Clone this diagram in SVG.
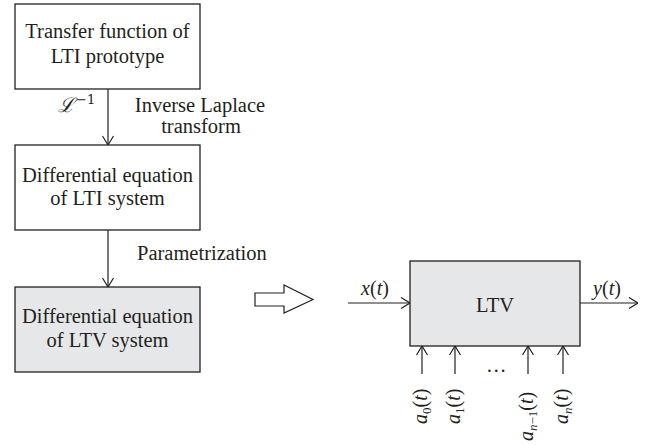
<svg xmlns="http://www.w3.org/2000/svg" width="649" height="445" viewBox="0 0 649 445">
<defs>
<style>
.box{fill:#ffffff;stroke:#231f20;stroke-width:1.3}
.gray{fill:#e6e7e8}
.t{font-family:"Liberation Serif","Times New Roman",serif;font-size:20.5px;fill:#231f20}
.m{font-family:"Liberation Serif","Times New Roman",serif;font-size:20px;font-style:italic;fill:#231f20}
.c{text-anchor:middle}
.ln{stroke:#231f20;stroke-width:1.2;fill:none}
</style>
<marker id="ah" viewBox="0 0 10 12" refX="10" refY="6" markerWidth="10" markerHeight="12" markerUnits="userSpaceOnUse" orient="auto">
<path d="M1,0.5 L10,6 L1,11.5" fill="none" stroke="#231f20" stroke-width="1.2"/>
</marker>
</defs>
<rect width="649" height="445" fill="#ffffff"/>
<g id="n1">
<rect class="box" x="15" y="4" width="185" height="85"/>
<text class="t c" x="107.5" y="38">Transfer function of</text>
<text class="t c" x="107.5" y="63">LTI prototype</text>
</g>
<g id="n2">
<rect class="box" x="15" y="145" width="185" height="85"/>
<text class="t c" x="107.5" y="182">Differential equation</text>
<text class="t c" x="107.5" y="205">of LTI system</text>
</g>
<g id="n3">
<rect class="box gray" x="15" y="287" width="185" height="85"/>
<text class="t c" x="107.5" y="323">Differential equation</text>
<text class="t c" x="107.5" y="347">of LTV system</text>
</g>
<g id="n4">
<rect class="box gray" x="410" y="261" width="170" height="85"/>
<text class="t c" x="495" y="312">LTV</text>
</g>
<g id="bigarrow">
<polygon points="255,293 284,293 284,285 313,299.5 284,313 284,306 255,306" fill="#ffffff" stroke="#231f20" stroke-width="1.2"/>
</g>
<g id="connectors">
<line class="ln" x1="108" y1="89" x2="108" y2="145" marker-end="url(#ah)"/>
<line class="ln" x1="108" y1="230" x2="108" y2="287" marker-end="url(#ah)"/>
<line class="ln" x1="348" y1="303" x2="410" y2="303" marker-end="url(#ah)"/>
<line class="ln" x1="580" y1="303" x2="638" y2="303" marker-end="url(#ah)"/>
<line class="ln" x1="422" y1="374" x2="422" y2="346" marker-end="url(#ah)"/>
<line class="ln" x1="455" y1="374" x2="455" y2="346" marker-end="url(#ah)"/>
<line class="ln" x1="528" y1="374" x2="528" y2="346" marker-end="url(#ah)"/>
<line class="ln" x1="563" y1="374" x2="563" y2="346" marker-end="url(#ah)"/>
</g>
<g id="labels">
<text class="m" x="58" y="112" style="font-family:'DejaVu Serif','Liberation Serif',serif;font-size:20px">ℒ<tspan font-style="normal" font-size="13" dx="1" dy="-8">−1</tspan></text>
<text class="t c" x="200" y="112">Inverse Laplace</text>
<text class="t c" x="201" y="133">transform</text>
<text class="t" x="137" y="260">Parametrization</text>
<text class="m c" x="375" y="295">x<tspan font-style="normal">(</tspan>t<tspan font-style="normal">)</tspan></text>
<text class="m c" x="607" y="295">y<tspan font-style="normal">(</tspan>t<tspan font-style="normal">)</tspan></text>
<text class="t" x="486" y="372" letter-spacing="3">…</text>
<text class="m" transform="translate(427,424) rotate(-90)">a<tspan font-style="normal" font-size="13" dy="4">0</tspan><tspan font-style="normal" dy="-4">(</tspan>t<tspan font-style="normal">)</tspan></text>
<text class="m" transform="translate(460,424) rotate(-90)">a<tspan font-style="normal" font-size="13" dy="4">1</tspan><tspan font-style="normal" dy="-4">(</tspan>t<tspan font-style="normal">)</tspan></text>
<text class="m" transform="translate(533,441) rotate(-90)">a<tspan font-size="13" dy="4">n</tspan><tspan font-style="normal" font-size="13">−1</tspan><tspan font-style="normal" dy="-4">(</tspan>t<tspan font-style="normal">)</tspan></text>
<text class="m" transform="translate(568,424) rotate(-90)">a<tspan font-size="13" dy="4">n</tspan><tspan font-style="normal" dy="-4">(</tspan>t<tspan font-style="normal">)</tspan></text>
</g>
</svg>
